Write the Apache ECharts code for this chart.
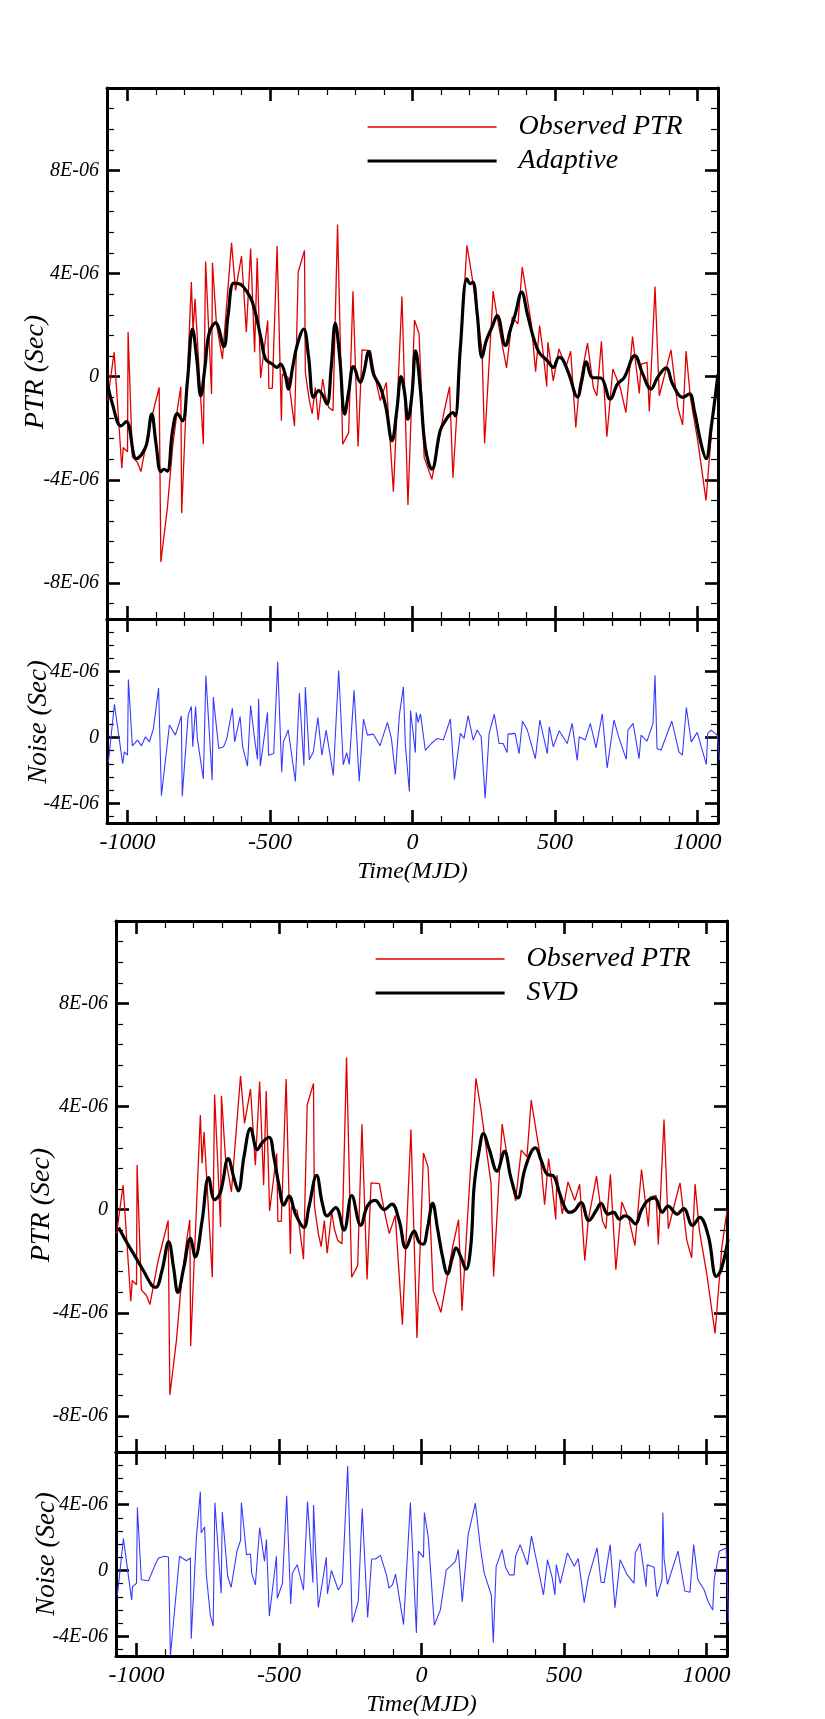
<!DOCTYPE html>
<html>
<head>
<meta charset="utf-8">
<title>PTR fits</title>
<script src="https://cdn.jsdelivr.net/npm/echarts@6/dist/echarts.min.js"></script>
<style>
  html, body { margin: 0; padding: 0; background: #fff; }
  #main { width: 825px; height: 1719px; }
</style>
</head>
<body>
<div id="main"></div>
<script>
// all values in units of 1E-06 sec, time in MJD
const obsTime = [-1070, -1047, -1020, -1015, -1000, -998, -983, -965, -953, -924, -889, -883, -860, -842, -825, -813, -810, -796,
  -776, -770, -763, -734, -726, -705, -702, -688, -667, -635, -621, -600, -583, -568, -554, -545, -533, -508, -504, -492,
  -475, -460, -457, -436, -414, -401, -379, -376, -362, -352, -341, -331, -315, -306, -294, -279, -263, -245, -224, -209,
  -191, -177, -148, -131, -113, -92, -67, -37, -16, 7, 23, 41, 68, 109, 130, 142, 191, 209, 244, 253, 283, 299, 330, 350,
  370, 385, 417, 432, 446, 459, 471, 475, 494, 514, 538, 555, 573, 585, 614, 635, 647, 663, 682, 703, 729, 749, 772, 796,
  802, 823, 831, 851, 866, 907, 931, 948, 960, 975, 1001, 1030, 1054, 1072];
const obsPtr = [-0.93, 0.95, -3.55, -2.75, -2.91, 1.73, -3.11, -3.33, -3.68, -1.97, -0.42, -7.19, -5.08, -2.75, -1.26, -0.39, -5.3, -1.58,
  3.67, 1.79, 3.02, -2.62, 4.47, -0.67, 4.42, 2.05, 0.69, 5.19, 3.35, 4.68, 1.73, 4.97, 0.95, 4.6, -0.05, 2.18, -0.45, -0.45,
  5.07, -1.71, 0.1, -0.03, -1.92, 4.06, 4.9, 0.17, -0.93, -1.43, -0.42, -1.69, -0.09, -0.74, -1.19, -1.32, 5.9, -2.62, -2.17, 3.31,
  -2.71, 1.04, 1.01, -0.03, -0.93, -0.22, -4.46, 3.11, -4.98, 2.2, 1.66, -3.14, -3.98, -1.45, -0.39, -3.92, 5.1, 3.87, 1.01, -2.59, 3.32, 2.18, 0.34, 2.31,
  2.05, 4.25, 2.05, 0.19, 1.98, 0.88, -0.38, 1.34, -0.16, 1.08, 0.36, 0.99, -1.97, -0.42, 1.3, -0.44, -0.74, 1.37, -2.33, 0.3, -0.42, -1.39, 1.56, -0.65,
  0.49, 0.56, -1.35, 3.5, -0.74, 1.04, -1.19, -1.87, 0.99, -0.8, -2.49, -4.8, -1.45, -0.03];

const adaptTime = [-1070, -1053, -1023, -1004, -969, -950, -933, -915, -900, -883, -872, -860, -842, -825, -807, -790, -772, -757,
  -743, -728, -714, -691, -662, -647, -627, -603, -580, -562, -545, -530, -516, -492, -475, -463, -446, -436, -420, -405, -382,
  -365, -347, -329, -316, -300, -285, -271, -255, -238, -224, -207, -183, -170, -154, -137, -113, -93, -72, -55, -40, -28, -16,
  -2, 11, 27, 45, 68, 97, 115, 142, 150, 168, 191, 203, 212, 227, 244, 259, 279, 297, 326, 344, 361, 383, 403, 424, 444, 473,
  494, 514, 526, 549, 579, 594, 610, 631, 661, 694, 719, 743, 780, 808, 837, 860, 890, 913, 948, 972, 989, 1013, 1030, 1048, 1072];
const adaptFit = [-0.29, -1.06, -1.91, -1.74, -3.18, -3.01, -2.62, -1.45, -2.6, -3.68, -3.59, -3.66, -2.1, -1.43, -1.71, -0.2, 1.85, 0.7,
  -0.74, 0.4, 1.66, 2.09, 1.17, 2.4, 3.63, 3.58, 3.28, 2.9, 2.18, 1.4, 0.69, 0.49, 0.36, 0.49, 0.05, -0.48, 0.4, 1.21, 1.85,
  0.8, -0.8, -0.54, -0.7, -1.06, 0.4, 2.07, 0.7, -1.45, -0.6, 0.39, -0.22, 0.2, 0.97, 0.1, -0.41, -1.2, -2.49, -1.3, 0, -0.6, -1.65,
  -0.7, 1.0, -0.42, -2.75, -3.59, -2.1, -1.71, -1.39, -1.52, 1.14, 3.8, 3.61, 3.67, 2.44, 0.75, 1.4, 1.92, 2.37, 1.21, 1.85, 2.44, 3.28, 2.44, 1.53, 0.95, 0.62,
  0.36, 0.75, 0.69, 0.1, -0.78, -0.16, 0.58, -0.03, -0.05, -0.87, -0.29, -0.03, 0.82, 0.1, -0.48, -0.03, 0.34, -0.29, -0.8, -0.67, -1.32, -2.62, -3.18, -1.97, 0.1];

const svdTime = [-1063, -1034, -1004, -975, -946, -932, -911, -887, -870, -855, -834, -811, -794, -770, -747, -726, -706, -678,
  -658, -643, -623, -600, -576, -559, -535, -518, -500, -483, -465, -442, -413, -395, -368, -348, -331, -301, -272, -245, -213,
  -190, -163, -131, -104, -78, -55, -26, -8, 6, 21, 39, 56, 74, 91, 109, 121, 138, 156, 173, 185, 203, 217, 238, 265, 291, 314,
  338, 361, 384, 400, 420, 443, 461, 484, 502, 519, 537, 560, 587, 613, 630, 654, 674, 695, 713, 728, 751, 771, 791, 818, 845,
  865, 897, 920, 951, 976, 1006, 1035, 1052, 1076];
const svdFit = [-0.69, -1.27, -1.83, -2.38, -2.94, -3.01, -2.38, -1.25, -2.24, -3.21, -2.24, -1.11, -1.83, -0.44, 1.25, 0.39, 0.66, 1.98,
  1.22, 0.73, 2.05, 3.16, 2.33, 2.6, 2.81, 2.05, 0.94, 0.18, 0.53, -0.17, -0.69, 0.11, 1.33, 0.25, -0.24, 0.08, -0.79, 0.55, -0.61,
  0.14, 0.36, 0, 0.22, -0.44, -1.48, -0.83, -1.27, -1.34, -0.72, 0.25, -0.72, -1.83, -2.49, -1.83, -1.48, -1.83, -2.31, -1.41, 0.94, 2.33, 2.95, 2.33, 1.5, 2.26, 1.22,
  0.46, 1.5, 2.22, 2.4, 1.91, 1.36, 1.33, 0.66, 0.11, -0.1, -0.03, 0.28, -0.42, -0.03, 0.25, -0.17, -0.1, -0.37, -0.24, -0.3, -0.55, -0.03, 0.32, 0.46, -0.1,
  0.14, -0.17, 0.04, -0.61, -0.3, -1.0, -2.59, -2.31, -1.14];

const noiseATime = [-1067, -1046, -1017, -1011, -1000, -997, -983, -965, -951, -937, -923, -909, -891, -881, -853, -832, -811, -808,
  -787, -776, -771, -761, -755, -734, -725, -703, -699, -680, -663, -652, -632, -624, -605, -596, -579, -568, -554, -544, -540,
  -534, -509, -505, -487, -473, -459, -453, -436, -411, -397, -381, -376, -362, -348, -332, -318, -303, -278, -259, -243, -231,
  -222, -205, -187, -172, -158, -137, -114, -88, -74, -60, -46, -32, -25, -11, -7, 10, 13, 20, 28, 45, 66, 87, 108, 133, 147,
  168, 181, 195, 213, 227, 241, 255, 269, 287, 304, 318, 332, 335, 360, 374, 386, 403, 431, 447, 473, 480, 494, 515, 543, 560,
  578, 585, 606, 624, 644, 666, 683, 707, 725, 750, 756, 774, 795, 802, 823, 844, 851, 858, 872, 910, 935, 947, 961, 978, 999,
  1031, 1036, 1048, 1069, 1078];
const noiseA = [-1.49, 2.02, -1.6, -0.88, -1.08, 3.52, -0.51, -0.16, -0.51, 0.04, -0.27, 0.55, 3.0, -3.54, 0.76, 0.14, 1.31, -3.58,
  1.37, 1.88, -0.57, 1.88, -0.06, -2.52, 3.76, -2.58, 2.45, -0.67, -0.57, -0.1, 1.78, -0.27, 1.27, -0.57, -1.74, 1.94, -0.1, -1.33, 2.35,
  -1.74, 1.51, -1.08, -0.98, 4.6, -2.11, -0.27, 0.45, -2.68, 2.7, -1.7, 3.07, -1.35, -0.88, 1.21, -1.08, 0.45, -2.31, 4.07, -1.66, -0.92,
  -1.64, 2.86, -2.66, 1.12, 0.14, 0.2, -0.51, 0.92, -0.06, -2.25, 1.37, 3.07, -0.47, -3.29, 1.64, -0.92, 1.51, 0.92, 1.43, -0.78, -0.37, -0.06, -0.16, 1.12, -2.56,
  0.25, -0.06, 1.33, -0.16, 0.45, 0.04, -3.7, 0.25, 1.41, -0.37, -0.37, -0.92, 0.2, 0.25, -0.98, 1.0, 0.45, -1.29, 1.06, -0.98, 0.65, -0.57, 0.41, -0.37, 0.86,
  -1.39, 0.04, -0.16, 0.86, -0.63, 1.43, -1.86, 1.06, -0.06, -1.33, 0.45, 0.86, -1.29, 0.14, -0.22, 0.86, 3.78, -0.67, -0.78, 1.0, -0.88, -1.08, 1.82, -0.27, 0.31,
  -1.64, 0.25, 0.45, 0.14, -1.39];

const noiseBTime = [-1067, -1046, -1017, -1014, -1000, -997, -983, -958, -951, -937, -923, -902, -888, -881, -849, -825, -811, -808,
  -790, -776, -773, -761, -755, -741, -731, -725, -703, -699, -680, -668, -647, -635, -632, -614, -600, -596, -583, -568, -551,
  -544, -534, -509, -506, -488, -473, -459, -453, -436, -414, -400, -381, -379, -362, -355, -334, -330, -316, -292, -278, -259,
  -243, -222, -208, -189, -175, -161, -144, -123, -114, -102, -91, -63, -39, -18, -11, 7, 10, 24, 45, 66, 87, 101, 119, 129, 143,
  164, 189, 206, 220, 245, 252, 262, 283, 295, 309, 325, 330, 346, 353, 372, 386, 403, 428, 442, 459, 468, 473, 487, 512, 536,
  550, 571, 585, 616, 630, 641, 662, 679, 697, 722, 746, 750, 767, 788, 792, 816, 826, 844, 847, 851, 863, 900, 924, 942, 955,
  970, 992, 1006, 1022, 1027, 1045, 1069, 1078];
const noiseB = [-1.49, 1.94, -1.8, -0.98, -0.78, 3.82, -0.57, -0.63, -0.67, 0.25, 0.76, 0.86, 0.82, -5.17, 0.86, 0.59, 0.76, -4.15,
  1.98, 4.79, 2.29, 2.64, -0.27, -2.72, -3.39, 4.13, -1.39, 3.56, -0.37, -1.02, 1.21, 1.82, 4.13, 0.96, 1.0, -0.16, -0.88, 2.6, 0.55,
  1.88, -2.78, 0.86, -1.7, -0.78, 4.54, -2.04, -0.16, 0.35, -1.19, 4.19, -0.74, 3.97, -2.25, -2.21, 0.8, -1.43, 0, -1.19, -0.78, 6.34,
  -3.17, -1.9, 3.76, -2.86, 0.7, 0.7, 0.92, -0.27, -1.08, -0.88, -0.22, -3.29, 4.13, -3.8, 1.17, 0.8, 3.52, 1.98, -3.33, -2.41, 0.04, 0.25, 0.55, 1.27, -1.9,
  2.19, 4.09, 1.47, -0.16, -1.49, -4.4, 0.25, 1.27, 0.18, -0.27, -0.27, 0.86, 1.57, 1.57, 0.35, 2.09, 0.65, -1.49, 0.65, -0.47, -1.49, 0.35, -0.78, 1.06, 0.25,
  0.72, -1.96, -0.47, 1.37, -0.72, -0.74, 1.57, -2.27, 0.65, -0.27, -0.78, 1.06, 1.64, -0.98, 0.35, 0.2, -1.6, -0.57, 3.52, 0.76, -0.84, 1.17, -1.25, -1.33, 1.57,
  -0.57, -1.19, -1.9, -2.41, -0.57, 1.17, 1.37, -3.13];

// ticks and ranges
const timeMin = -1072, timeMax = 1072;
const timeMajor = [-1000, -500, 0, 500, 1000];
const timeMinor = [-1000, -900, -800, -700, -600, -500, -400, -300, -200, -100, 0, 100, 200, 300, 400, 500, 600, 700, 800, 900, 1000];
const ptrMin = -9.4, ptrMax = 11.2;
const ptrMajor = [-8, -4, 0, 4, 8];
const ptrMinor = [-8.8, -8, -7.2, -6.4, -5.6, -4.8, -4, -3.2, -2.4, -1.6, -0.8, 0, 0.8, 1.6, 2.4, 3.2, 4, 4.8, 5.6, 6.4, 7.2, 8, 8.8, 9.6, 10.4];
const noiseMin = -5.2, noiseMax = 7.2;
const noiseMajor = [-4, 0, 4];
const noiseMinor = [-4.8, -4, -3.2, -2.4, -1.6, -0.8, 0, 0.8, 1.6, 2.4, 3.2, 4, 4.8, 5.6, 6.4];

const pairs = (t, v) => t.map((x, i) => [x, v[i]]);
const serif = { fontFamily: '"Liberation Serif", "Times New Roman", serif', fontStyle: 'italic', color: '#000' };

// panel boxes
const panels = [
  { left: 107, top: 88, height: 531, yMin: ptrMin, yMax: ptrMax, major: ptrMajor, minor: ptrMinor, xLabels: false },
  { left: 107, top: 619, height: 204, yMin: noiseMin, yMax: noiseMax, major: noiseMajor, minor: noiseMinor, xLabels: true },
  { left: 116, top: 921, height: 531, yMin: ptrMin, yMax: ptrMax, major: ptrMajor, minor: ptrMinor, xLabels: false },
  { left: 116, top: 1452, height: 204, yMin: noiseMin, yMax: noiseMax, major: noiseMajor, minor: noiseMinor, xLabels: true }
];

const grid = [], xAxis = [], yAxis = [];
panels.forEach(p => {
  // one grid for major ticks + series, one on top of it for the minor ticks
  [true, false].forEach(isMajor => {
    const gi = grid.length;
    grid.push({ left: p.left, top: p.top, width: 611, height: p.height });
    const frame = { show: isMajor, onZero: false, lineStyle: { color: '#000', width: 3 } };
    const tickX = { show: true, inside: true, length: isMajor ? 13 : 7, customValues: isMajor ? timeMajor : timeMinor,
      lineStyle: { color: '#000', width: isMajor ? 2.6 : 1.2 } };
    const tickY = { show: true, inside: true, length: isMajor ? 13 : 7, customValues: isMajor ? p.major : p.minor,
      lineStyle: { color: '#000', width: isMajor ? 2.6 : 1.2 } };
    const bottom = { gridIndex: gi, type: 'value', min: timeMin, max: timeMax, position: 'bottom',
      axisLine: frame, axisTick: tickX, splitLine: { show: false }, axisLabel: { show: false } };
    if (isMajor && p.xLabels) {
      bottom.axisLabel = Object.assign({ show: true, customValues: timeMajor, fontSize: 24, margin: 8,
        formatter: v => String(v) }, serif);
      bottom.name = 'Time(MJD)';
      bottom.nameLocation = 'middle';
      bottom.nameGap = 37;
      bottom.nameTextStyle = Object.assign({ fontSize: 24 }, serif);
    }
    xAxis.push(bottom);
    xAxis.push({ gridIndex: gi, type: 'value', min: timeMin, max: timeMax, position: 'top',
      axisLine: frame, axisTick: tickX, splitLine: { show: false }, axisLabel: { show: false } });
    const left = { gridIndex: gi, type: 'value', min: p.yMin, max: p.yMax, position: 'left',
      axisLine: frame, axisTick: tickY, splitLine: { show: false }, axisLabel: { show: false } };
    if (isMajor) {
      left.axisLabel = Object.assign({ show: true, customValues: p.major, fontSize: 20, margin: 8,
        formatter: v => (v === 0 ? '0' : v + 'E-06') }, serif);
    }
    yAxis.push(left);
    yAxis.push({ gridIndex: gi, type: 'value', min: p.yMin, max: p.yMax, position: 'right',
      axisLine: frame, axisTick: tickY, splitLine: { show: false }, axisLabel: { show: false } });
  });
});

// series sit on the major grid of each panel (axis index 4 * panel)
const redLine = { color: '#e00000', width: 1.3 };
const series = [
  { name: 'Observed PTR', type: 'line', xAxisIndex: 0, yAxisIndex: 0, data: pairs(obsTime, obsPtr),
    symbol: 'none', lineStyle: redLine, itemStyle: { color: '#e00000' }, z: 2 },
  { name: 'Adaptive', type: 'line', xAxisIndex: 0, yAxisIndex: 0, data: pairs(adaptTime, adaptFit), smooth: 0.4,
    symbol: 'none', lineStyle: { color: '#000', width: 3.2 }, itemStyle: { color: '#000' }, z: 3 },
  { name: 'Noise A', type: 'line', xAxisIndex: 4, yAxisIndex: 4, data: pairs(noiseATime, noiseA),
    symbol: 'none', lineStyle: { color: '#3a3aff', width: 1.1 }, z: 2 },
  { name: 'Observed PTR', type: 'line', xAxisIndex: 8, yAxisIndex: 8, data: pairs(obsTime, obsPtr),
    symbol: 'none', lineStyle: redLine, itemStyle: { color: '#e00000' }, z: 2 },
  { name: 'SVD', type: 'line', xAxisIndex: 8, yAxisIndex: 8, data: pairs(svdTime, svdFit), smooth: 0.4,
    symbol: 'none', lineStyle: { color: '#000', width: 3.2 }, itemStyle: { color: '#000' }, z: 3 },
  { name: 'Noise B', type: 'line', xAxisIndex: 12, yAxisIndex: 12, data: pairs(noiseBTime, noiseB),
    symbol: 'none', lineStyle: { color: '#3a3aff', width: 1.1 }, z: 2 }
];

// legend: line sample only, the marker is made transparent
const legendText = Object.assign({ fontSize: 28, lineHeight: 28, padding: [0, 0, 0, 17] }, serif);
const legend = [
  { left: 366, top: 113, padding: 0, orient: 'vertical', itemWidth: 129, itemHeight: 28, itemGap: 6, selectedMode: false,
    itemStyle: { opacity: 0 }, lineStyle: { width: 'inherit' }, data: ['Observed PTR', 'Adaptive'], textStyle: legendText },
  { left: 374, top: 945, padding: 0, orient: 'vertical', itemWidth: 129, itemHeight: 28, itemGap: 6, selectedMode: false,
    itemStyle: { opacity: 0 }, lineStyle: { width: 'inherit' }, data: ['Observed PTR', 'SVD'], textStyle: legendText }
];

// rotated y titles
const yTitle = (text, x, y, size) => ({ type: 'text', x: x, y: y, rotation: Math.PI / 2,
  style: { text: text, fill: '#000', font: 'italic ' + size + 'px "Liberation Serif", "Times New Roman", serif',
    align: 'center', verticalAlign: 'middle' } });

const chart = echarts.init(document.getElementById('main'));
chart.setOption({
  backgroundColor: '#fff',
  animation: false,
  grid: grid,
  xAxis: xAxis,
  yAxis: yAxis,
  legend: legend,
  series: series,
  graphic: [
    yTitle('PTR (Sec)', 36, 372, 28),
    yTitle('Noise (Sec)', 39, 722, 27),
    yTitle('PTR (Sec)', 42, 1205, 28),
    yTitle('Noise (Sec)', 47, 1554, 27)
  ]
});
</script>
</body>
</html>
